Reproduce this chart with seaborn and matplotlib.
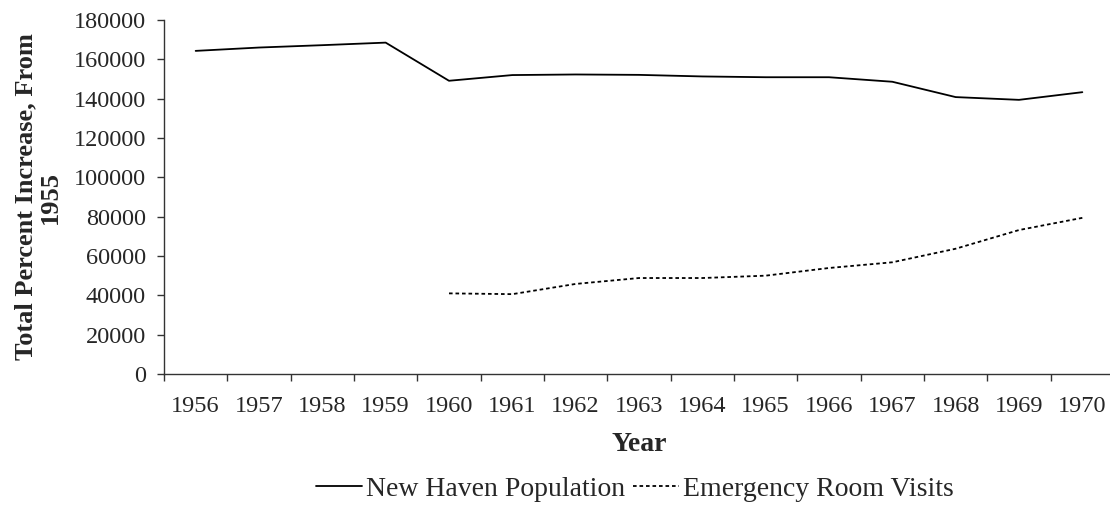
import numpy as np
import pandas as pd
import matplotlib
matplotlib.use("Agg")
import matplotlib.pyplot as plt
import seaborn as sns

# chart data
years = [str(y) for y in range(1956, 1971)]
population = [164300, 166000, 167200, 168500, 149100, 152000, 152300, 152100,
              151300, 150900, 150900, 148600, 140800, 139400, 143300]
er_visits = [np.nan, np.nan, np.nan, np.nan, 41000, 40600, 45800, 48800,
             48800, 50000, 53900, 56800, 63700, 73200, 79400]
y_ticks = list(range(0, 180001, 20000))

pop_name = "New Haven Population"
er_name = "Emergency Room Visits"

df = pd.DataFrame({
    "Year": years * 2,
    "Value": population + er_visits,
    "Series": [pop_name] * len(years) + [er_name] * len(years),
})

sns.set_style("ticks")
plt.rcParams["font.family"] = ["Liberation Serif", "DejaVu Serif"]

fig = plt.figure(figsize=(11.1, 5.08), dpi=100)
ax = fig.add_axes([164 / 1110, 1 - 374 / 508, 950 / 1110, 354 / 508])

sns.lineplot(
    data=df, x="Year", y="Value", hue="Series", style="Series",
    palette={pop_name: "black", er_name: "black"},
    dashes={pop_name: "", er_name: (2, 1.6)},
    linewidth=1.3, ax=ax, sort=False,
)

# category axis: labels centred, tick marks on the boundaries
ax.set_xlim(-0.5, len(years) - 0.5)
ax.set_xticks(range(len(years)))
ax.set_xticklabels(years)
ax.set_xticks(np.arange(-0.5, len(years), 1.0), minor=True)
ax.tick_params(axis="x", which="major", length=0, pad=16, labelsize=17.5)
ax.tick_params(axis="x", which="minor", length=5, width=1, color="#333333")

ax.set_ylim(0, 180000)
ax.set_yticks(y_ticks)
ax.set_yticklabels([str(t) for t in y_ticks])
ax.tick_params(axis="y", length=5, width=1, pad=8, labelsize=17.5, color="#333333")

for side in ["top", "right"]:
    ax.spines[side].set_visible(False)
for side in ["left", "bottom"]:
    ax.spines[side].set_color("#333333")
    ax.spines[side].set_linewidth(1)

ax.set_xlabel("Year", fontsize=20, fontweight="bold")
ax.xaxis.set_label_coords(0.5, -0.163)
ax.set_ylabel("Total Percent Increase, From\n1955", fontsize=19,
              fontweight="bold", linespacing=1.05)
ax.yaxis.set_label_coords(-0.108, 0.5)

handles, labels = ax.get_legend_handles_labels()
ax.get_legend().remove()
fig.legend(handles, labels, loc="center", bbox_to_anchor=(635 / 1110, 1 - 489 / 508),
           ncol=2, frameon=False, fontsize=20, handlelength=1.65,
           handletextpad=0.15, columnspacing=0.3)

fig.savefig("out.png", dpi=100)
